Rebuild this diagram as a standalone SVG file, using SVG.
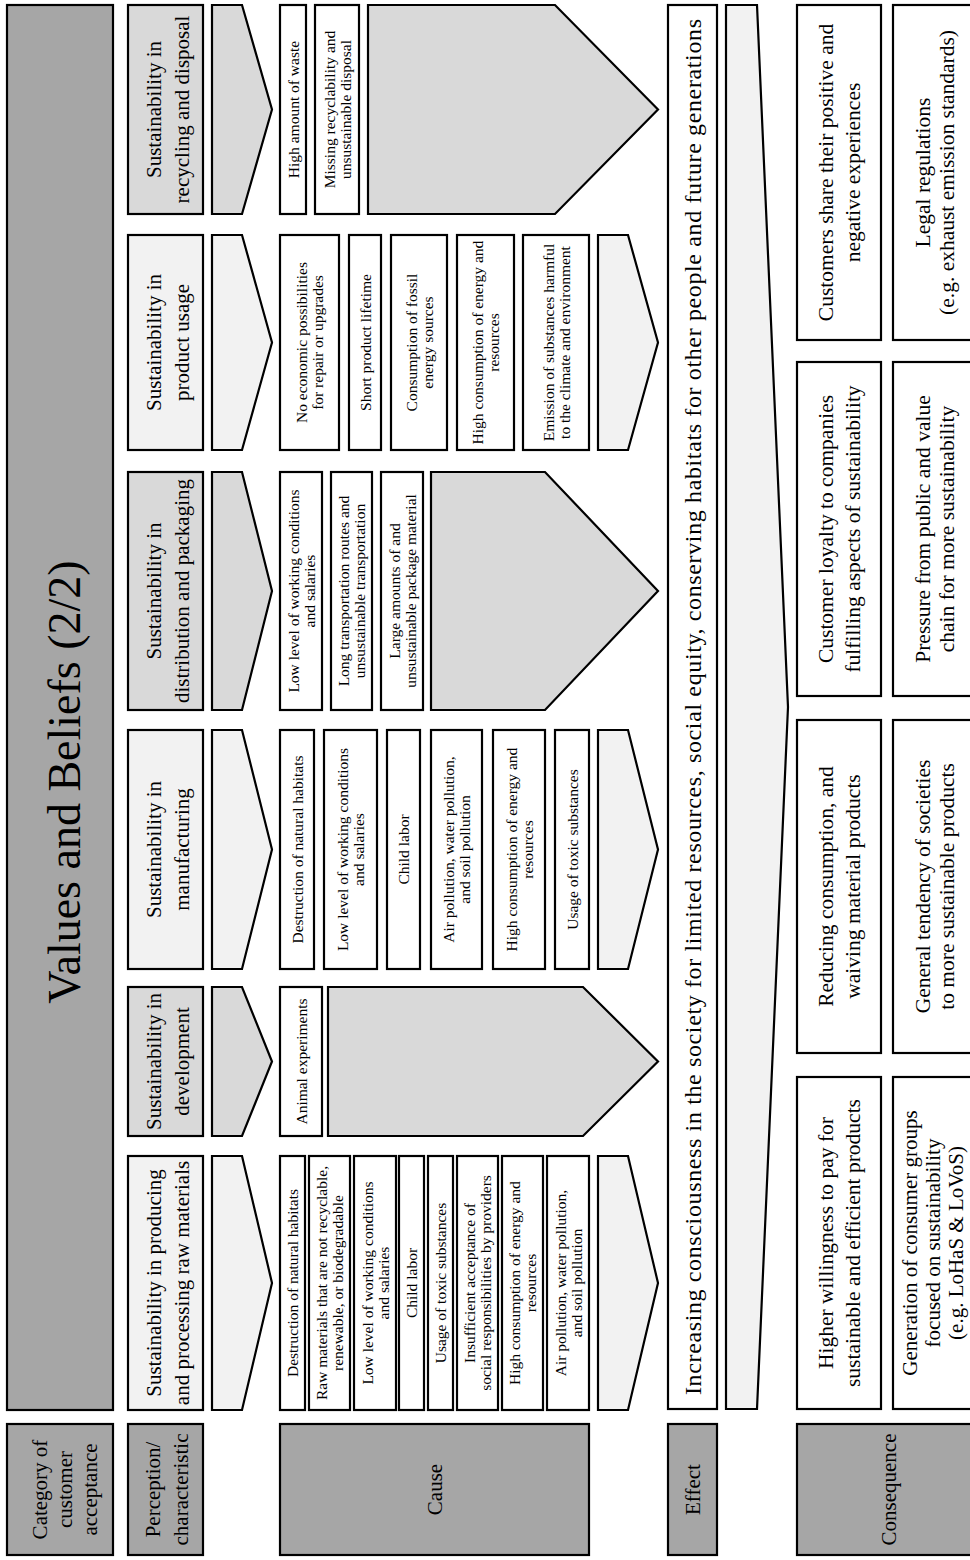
<svg xmlns="http://www.w3.org/2000/svg" width="970" height="1560" viewBox="0 0 970 1560">
  <style>
    .box { stroke: #000; stroke-width: 2.2; stroke-linejoin: miter; }
    .dk { fill: #a6a6a6; }
    .lt { fill: #f2f2f2; }
    .md { fill: #d9d9d9; }
    .wh { fill: #ffffff; }
    text { font-family: "Liberation Serif", "Times New Roman", serif; fill: #000; text-anchor: middle; }
    .title { font-size: 46px; }
    .lab { font-size: 21px; }
    .hd { font-size: 21px; }
    .cs { font-size: 15.5px; }
    .ef { font-size: 24px; }
    .cq { font-size: 21.5px; }
    .cq2 { font-size: 21px; }
  </style>

  <!-- The chart is laid out landscape (1560 x 970) and turned a quarter turn -->
  <g id="chart" transform="translate(0,1560) rotate(-90)">

    <!-- Row labels -->
    <g id="label-category">
      <rect class="box dk" x="5" y="7" width="131" height="106"/>
      <text class="lab" x="70.5"><tspan x="70.5" y="47">Category of</tspan><tspan x="70.5" y="72">customer</tspan><tspan x="70.5" y="97">acceptance</tspan></text>
    </g>
    <g id="label-perception">
      <rect class="box dk" x="5" y="128" width="131" height="75"/>
      <text class="lab"><tspan x="70.5" y="160">Perception/</tspan><tspan x="70.5" y="188">characteristic</tspan></text>
    </g>
    <g id="label-cause">
      <rect class="box dk" x="5" y="280" width="131" height="309"/>
      <text class="lab" x="70.5" y="442">Cause</text>
    </g>
    <g id="label-effect">
      <rect class="box dk" x="5" y="668" width="131" height="49"/>
      <text class="lab" x="70.5" y="700">Effect</text>
    </g>
    <g id="label-consequence">
      <rect class="box dk" x="5" y="797" width="131" height="190"/>
      <text class="lab" x="70.5" y="896">Consequence</text>
    </g>

    <!-- Title band -->
    <g id="title">
      <rect class="box dk" x="150" y="7" width="1405" height="106"/>
      <text class="title" x="778" y="80">Values and Beliefs (2/2)</text>
    </g>

    <!-- Perception headers -->
    <g id="hdr-raw">
      <rect class="box lt" x="150" y="128" width="254" height="75"/>
      <text class="hd"><tspan x="277" y="161">Sustainability in producing</tspan><tspan x="277" y="189">and processing raw materials</tspan></text>
    </g>
    <g id="hdr-development">
      <rect class="box md" x="424" y="128" width="149" height="75"/>
      <text class="hd"><tspan x="498.5" y="161">Sustainability in</tspan><tspan x="498.5" y="189">development</tspan></text>
    </g>
    <g id="hdr-manufacturing">
      <rect class="box lt" x="591" y="128" width="239" height="75"/>
      <text class="hd"><tspan x="710.5" y="161">Sustainability in</tspan><tspan x="710.5" y="189">manufacturing</tspan></text>
    </g>
    <g id="hdr-distribution">
      <rect class="box md" x="850" y="128" width="238" height="75"/>
      <text class="hd"><tspan x="969" y="161">Sustainability in</tspan><tspan x="969" y="189">distribution and packaging</tspan></text>
    </g>
    <g id="hdr-usage">
      <rect class="box lt" x="1110" y="128" width="215" height="75"/>
      <text class="hd"><tspan x="1217.5" y="161">Sustainability in</tspan><tspan x="1217.5" y="189">product usage</tspan></text>
    </g>
    <g id="hdr-recycling">
      <rect class="box md" x="1346" y="128" width="209" height="75"/>
      <text class="hd"><tspan x="1450.5" y="161">Sustainability in</tspan><tspan x="1450.5" y="189">recycling and disposal</tspan></text>
    </g>

    <!-- Causes: raw materials -->
    <g id="cause-raw">
      <rect class="box wh" x="150" y="280" width="254" height="25"/>
      <text class="cs" x="277" y="298">Destruction of natural habitats</text>
      <rect class="box wh" x="150" y="309" width="254" height="41"/>
      <text class="cs"><tspan x="277" y="327">Raw materials that are not recyclable,</tspan><tspan x="277" y="343">renewable, or biodegradable</tspan></text>
      <rect class="box wh" x="150" y="354" width="254" height="42"/>
      <text class="cs"><tspan x="277" y="372.5">Low level of working conditions</tspan><tspan x="277" y="388.5">and salaries</tspan></text>
      <rect class="box wh" x="150" y="399" width="254" height="25"/>
      <text class="cs" x="277" y="417">Child labor</text>
      <rect class="box wh" x="150" y="428" width="254" height="25"/>
      <text class="cs" x="277" y="446">Usage of toxic substances</text>
      <rect class="box wh" x="150" y="457" width="254" height="41"/>
      <text class="cs"><tspan x="277" y="475">Insufficient  acceptance of</tspan><tspan x="277" y="491">social responsibilities by providers</tspan></text>
      <rect class="box wh" x="150" y="502" width="254" height="41"/>
      <text class="cs"><tspan x="277" y="520">High consumption of energy and</tspan><tspan x="277" y="536">resources</tspan></text>
      <rect class="box wh" x="150" y="547" width="254" height="42"/>
      <text class="cs"><tspan x="277" y="565.5">Air pollution, water pollution,</tspan><tspan x="277" y="581.5">and soil pollution</tspan></text>
    </g>

    <!-- Causes: development -->
    <g id="cause-development">
      <rect class="box wh" x="424" y="280" width="149" height="42"/>
      <text class="cs" x="498.5" y="306.5">Animal experiments</text>
    </g>

    <!-- Causes: manufacturing -->
    <g id="cause-manufacturing">
      <rect class="box wh" x="591" y="280" width="239" height="34"/>
      <text class="cs" x="710.5" y="302.5">Destruction of natural habitats</text>
      <rect class="box wh" x="591" y="324" width="239" height="53"/>
      <text class="cs"><tspan x="710.5" y="348">Low level of working conditions</tspan><tspan x="710.5" y="364">and salaries</tspan></text>
      <rect class="box wh" x="591" y="387" width="239" height="33"/>
      <text class="cs" x="710.5" y="409">Child labor</text>
      <rect class="box wh" x="591" y="431" width="239" height="51"/>
      <text class="cs"><tspan x="710.5" y="454">Air pollution, water pollution,</tspan><tspan x="710.5" y="470">and soil pollution</tspan></text>
      <rect class="box wh" x="591" y="493" width="239" height="52"/>
      <text class="cs"><tspan x="710.5" y="516.5">High consumption of energy and</tspan><tspan x="710.5" y="532.5">resources</tspan></text>
      <rect class="box wh" x="591" y="555" width="239" height="34"/>
      <text class="cs" x="710.5" y="577.5">Usage of toxic substances</text>
    </g>

    <!-- Causes: distribution and packaging -->
    <g id="cause-distribution">
      <rect class="box wh" x="850" y="280" width="238" height="42"/>
      <text class="cs"><tspan x="969" y="298.5">Low level of working conditions</tspan><tspan x="969" y="314.5">and salaries</tspan></text>
      <rect class="box wh" x="850" y="331" width="238" height="41"/>
      <text class="cs"><tspan x="969" y="349">Long transportation routes and</tspan><tspan x="969" y="365">unsustainable transportation</tspan></text>
      <rect class="box wh" x="850" y="381" width="238" height="42"/>
      <text class="cs"><tspan x="969" y="399.5">Large amounts of and</tspan><tspan x="969" y="415.5">unsustainable package material</tspan></text>
    </g>

    <!-- Causes: product usage -->
    <g id="cause-usage">
      <rect class="box wh" x="1110" y="280" width="215" height="59"/>
      <text class="cs"><tspan x="1217.5" y="307">No economic possibilities</tspan><tspan x="1217.5" y="323">for repair or upgrades</tspan></text>
      <rect class="box wh" x="1110" y="349" width="215" height="32"/>
      <text class="cs" x="1217.5" y="370.5">Short product lifetime</text>
      <rect class="box wh" x="1110" y="391" width="215" height="56"/>
      <text class="cs"><tspan x="1217.5" y="416.5">Consumption of fossil</tspan><tspan x="1217.5" y="432.5">energy sources</tspan></text>
      <rect class="box wh" x="1110" y="457" width="215" height="57"/>
      <text class="cs"><tspan x="1217.5" y="483">High consumption of energy and</tspan><tspan x="1217.5" y="499">resources</tspan></text>
      <rect class="box wh" x="1110" y="523" width="215" height="66"/>
      <text class="cs"><tspan x="1217.5" y="553.5">Emission of substances harmful</tspan><tspan x="1217.5" y="569.5">to the climate and environment</tspan></text>
    </g>

    <!-- Causes: recycling and disposal -->
    <g id="cause-recycling">
      <rect class="box wh" x="1346" y="280" width="209" height="26"/>
      <text class="cs" x="1450.5" y="298.5">High amount of waste</text>
      <rect class="box wh" x="1346" y="315" width="209" height="44"/>
      <text class="cs"><tspan x="1450.5" y="334.5">Missing recyclability and</tspan><tspan x="1450.5" y="350.5">unsustainable disposal</tspan></text>
    </g>

    <!-- Effect -->
    <g id="effect">
      <rect class="box wh" x="151" y="668" width="1404" height="49"/>
      <text class="ef" x="853" y="701" textLength="1376" lengthAdjust="spacing">Increasing consciousness in the society for limited resources, social equity, conserving habitats for other people and future generations</text>
    </g>

    <!-- Consequences, first row -->
    <g id="csq-willingness">
      <rect class="box wh" x="151" y="797" width="332" height="84"/>
      <text class="cq"><tspan x="317" y="833">Higher willingness to pay for</tspan><tspan x="317" y="860">sustainable and efficient products</tspan></text>
    </g>
    <g id="csq-reducing">
      <rect class="box wh" x="507" y="797" width="333" height="84"/>
      <text class="cq"><tspan x="673.5" y="833">Reducing consumption, and</tspan><tspan x="673.5" y="860">waiving material products</tspan></text>
    </g>
    <g id="csq-loyalty">
      <rect class="box wh" x="864" y="797" width="334" height="84"/>
      <text class="cq"><tspan x="1031" y="833">Customer loyalty to companies</tspan><tspan x="1031" y="860">fulfilling aspects of sustainability</tspan></text>
    </g>
    <g id="csq-sharing">
      <rect class="box wh" x="1220" y="797" width="335" height="84"/>
      <text class="cq"><tspan x="1387.5" y="833">Customers share their positive and</tspan><tspan x="1387.5" y="860">negative experiences</tspan></text>
    </g>

    <!-- Consequences, second row (runs off the sheet edge) -->
    <g id="csq-groups">
      <rect class="box wh" x="151" y="893" width="332" height="94"/>
      <text class="cq2"><tspan x="317" y="917">Generation of consumer groups</tspan><tspan x="317" y="940">focused on sustainability</tspan><tspan x="317" y="963">(e.g. LoHaS &amp; LoVoS)</tspan></text>
    </g>
    <g id="csq-tendency">
      <rect class="box wh" x="507" y="893" width="333" height="94"/>
      <text class="cq"><tspan x="673.5" y="929.5">General tendency of societies</tspan><tspan x="673.5" y="953.5">to more sustainable products</tspan></text>
    </g>
    <g id="csq-pressure">
      <rect class="box wh" x="864" y="893" width="334" height="94"/>
      <text class="cq"><tspan x="1031" y="929.5">Pressure from public and value</tspan><tspan x="1031" y="953.5">chain for more sustainability</tspan></text>
    </g>
    <g id="csq-regulations">
      <rect class="box wh" x="1220" y="893" width="335" height="94"/>
      <text class="cq"><tspan x="1387.5" y="929.5">Legal regulations</tspan><tspan x="1387.5" y="953.5">(e.g. exhaust emission standards)</tspan></text>
    </g>

    <!-- Chevron arrows leading from one row to the next -->
    <g id="connectors">
      <!-- perception to cause -->
      <polygon class="box lt" points="150,212 404,212 404,242 277,272 150,242"/>
      <polygon class="box md" points="424,212 573,212 573,242 498.5,272 424,242"/>
      <polygon class="box lt" points="591,212 830,212 830,242 710.5,272 591,242"/>
      <polygon class="box md" points="850,212 1088,212 1088,242 969,272 850,242"/>
      <polygon class="box lt" points="1110,212 1325,212 1325,242 1217.5,272 1110,242"/>
      <polygon class="box md" points="1346,212 1555,212 1555,242 1450.5,272 1346,242"/>
      <!-- cause to effect -->
      <polygon class="box lt" points="150,598 404,598 404,628 277,658 150,628"/>
      <polygon class="box md" points="424,328 573,328 573,583 498.5,658 424,583"/>
      <polygon class="box lt" points="591,598 830,598 830,628 710.5,658 591,628"/>
      <polygon class="box md" points="850,431 1088,431 1088,545 969,658 850,545"/>
      <polygon class="box lt" points="1110,598 1325,598 1325,628 1217.5,658 1110,628"/>
      <polygon class="box md" points="1346,368 1555,368 1555,555 1450.5,658 1346,555"/>
      <!-- effect to consequence -->
      <polygon class="box lt" points="151,726 1555,726 1555,757 853,788 151,757"/>
    </g>
  </g>
</svg>
